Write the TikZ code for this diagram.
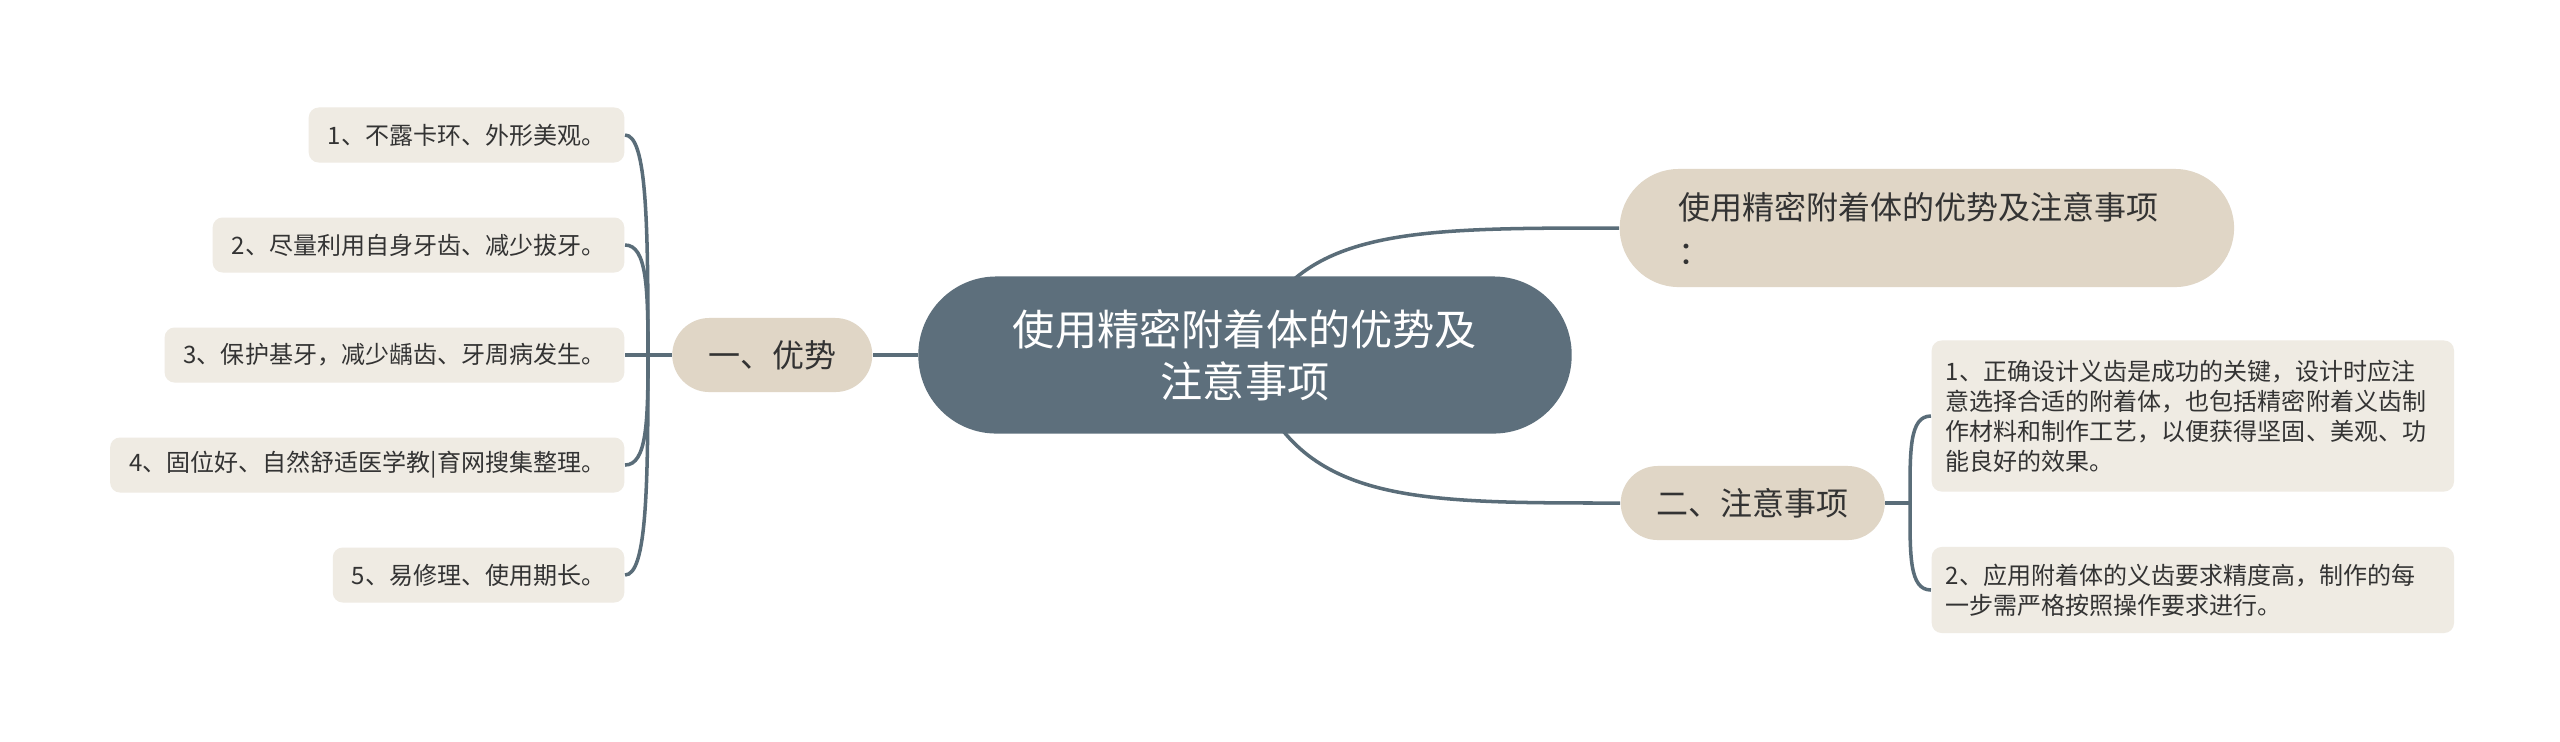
\documentclass[tikz,border=0pt]{standalone}
\usepackage{fontspec}
\setmainfont{Noto Sans CJK SC}
\usetikzlibrary{backgrounds}
\definecolor{linec}{HTML}{5A6D79}
\definecolor{rootc}{HTML}{5D6F7C}
\definecolor{mainc}{HTML}{E0D6C6}
\definecolor{leafc}{HTML}{EFEBE3}
\definecolor{textc}{HTML}{333333}
\tikzset{
  root/.style={shape=rectangle, fill=rootc, text=white, rounded corners=0.78cm, minimum width=6.53cm, minimum height=1.57cm, align=center, font=\fontsize{12pt}{14.8pt}\selectfont},
  main/.style={shape=rectangle, fill=mainc, text=textc, rounded corners=0.37cm, minimum height=0.74cm, inner xsep=0.36cm, font=\fontsize{9.1pt}{12.8pt}\selectfont},
  leaf/.style={shape=rectangle, fill=leafc, text=textc, rounded corners=0.1cm, minimum height=0.55cm, inner xsep=0.19cm, inner ysep=0.1cm, font=\fontsize{6.83pt}{8.54pt}\selectfont},
  conn/.style={draw=linec, line width=1pt}
}
\begin{document}
\begin{tikzpicture}[x=0.01cm, y=-0.01cm]
\useasboundingbox (0,0) rectangle (2560,741);

\node[root](C) at (1245,355) {使用精密附着体的优势及\\注意事项};

\node[main, anchor=east](Y) at (873,355) {一、优势};
\node[main, anchor=west, rounded corners=0.59cm, minimum height=1.18cm, inner xsep=0.59cm, text width=4.96cm, align=left](T) at (1619,228) {使用精密附着体的优势及注意事项\\：};
\node[main, anchor=west](Z) at (1620,503) {二、注意事项};

\node[leaf, anchor=east](L1) at (625,135) {1、不露卡环、外形美观。};
\node[leaf, anchor=east](L2) at (625,245) {2、尽量利用自身牙齿、减少拔牙。};
\node[leaf, anchor=east](L3) at (625,355) {3、保护基牙，减少龋齿、牙周病发生。};
\node[leaf, anchor=east](L4) at (625,465) {4、固位好、自然舒适医学教|育网搜集整理。};
\node[leaf, anchor=east](L5) at (625,575) {5、易修理、使用期长。};

\node[leaf, anchor=west, inner xsep=0.14cm, text width=4.94cm, minimum height=1.51cm, align=left](R1) at (1931,416) {1、正确设计义齿是成功的关键，设计时应注\\意选择合适的附着体，也包括精密附着义齿制\\作材料和制作工艺，以便获得坚固、美观、功\\能良好的效果。};
\node[leaf, anchor=west, inner xsep=0.14cm, text width=4.94cm, minimum height=0.86cm, align=left](R2) at (1931,590) {2、应用附着体的义齿要求精度高，制作的每\\一步需严格按照操作要求进行。};

\coordinate (YS) at (648,355);
\coordinate (ZS) at (1910,503);

\begin{scope}[on background layer]
\fill[white] (0,0) rectangle (2560,741);
\path[conn] (C.west) -- (Y.east);
\path[conn] (C.center) .. controls +(45,-127) and +(-221,0) .. (T.west);
\path[conn] (C.center) .. controls +(45,148) and +(-220,0) .. (Z.west);

\path[conn] (Y.west) -- (L3.east);
\path[conn] (YS) .. controls +(0,-130) and +(22,0) .. (L1.east);
\path[conn] (YS) .. controls +(0,-66) and +(22,0) .. (L2.east);
\path[conn] (YS) .. controls +(0,66) and +(22,0) .. (L4.east);
\path[conn] (YS) .. controls +(0,130) and +(22,0) .. (L5.east);

\path[conn] (Z.east) -- (ZS);
\path[conn] (ZS) .. controls +(0,-52) and +(-22,0) .. (R1.west);
\path[conn] (ZS) .. controls +(0,52) and +(-22,0) .. (R2.west);
\end{scope}
\end{tikzpicture}
\end{document}
